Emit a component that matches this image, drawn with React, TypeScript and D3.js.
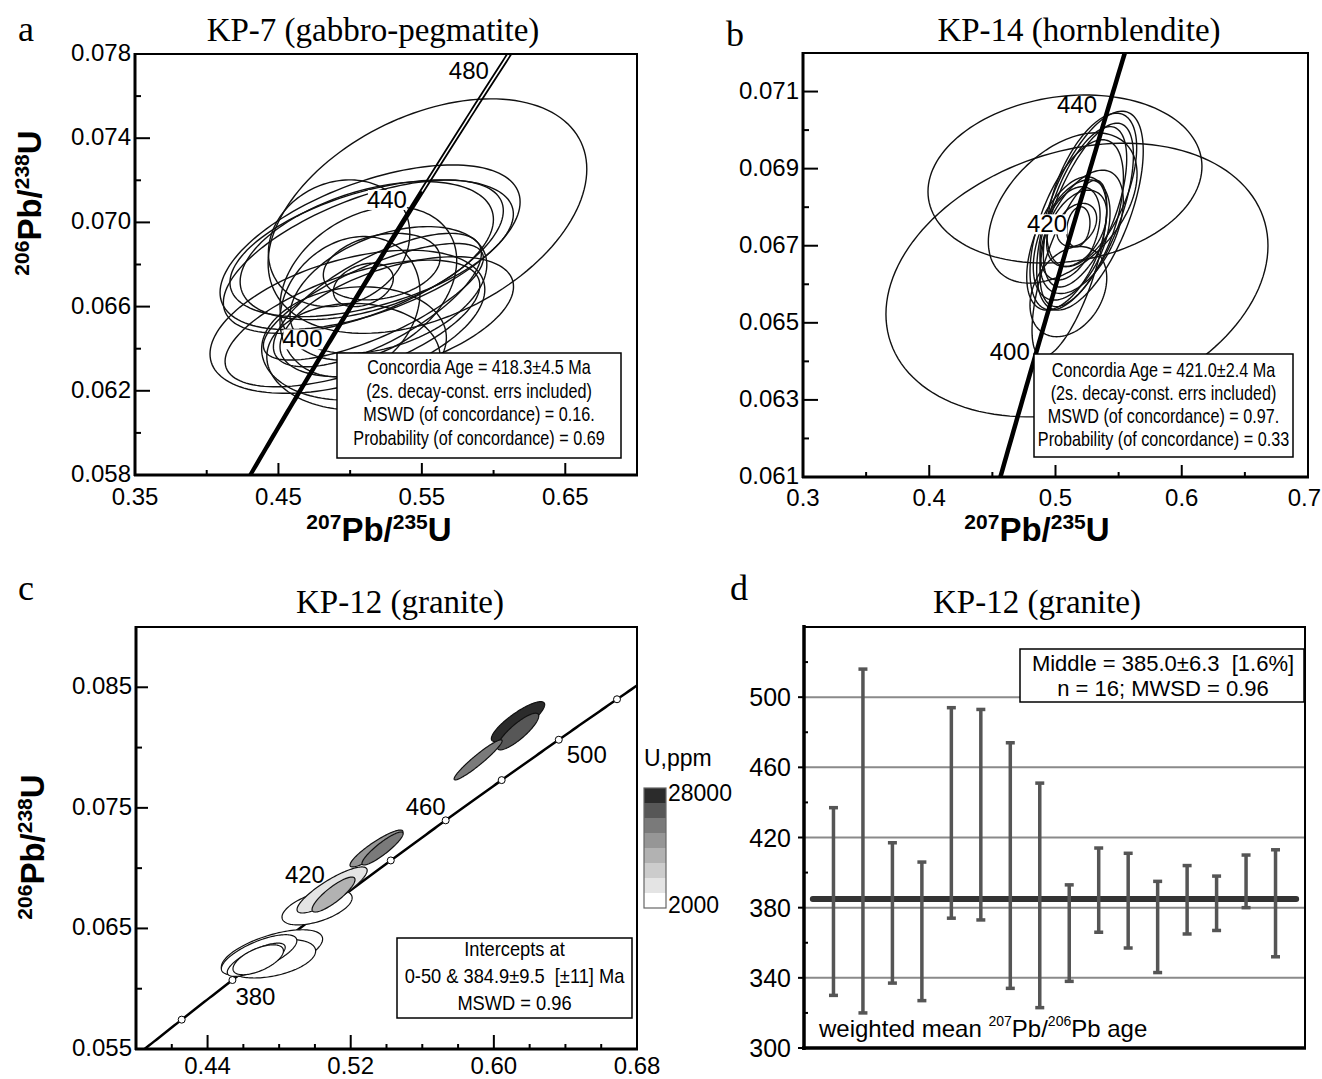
import React from 'react';
import * as d3 from 'd3';

// decay constants (1/yr)
const L238 = 1.55125e-10;
const L235 = 9.8485e-10;

// ---- a: KP-7 (gabbro-pegmatite) ellipses: centre, half-extent, rho
const kp7X = [0.5539, 0.5139, 0.5150, 0.5092, 0.5116, 0.4923, 0.5127, 0.5220, 0.5092, 0.5267, 0.4999, 0.4981, 0.5016, 0.5027, 0.5023, 0.5325, 0.5162, 0.5190];
const kp7Y = [0.0703, 0.06882, 0.06877, 0.06837, 0.06866, 0.06901, 0.06710, 0.06790, 0.06703, 0.06679, 0.06600, 0.06528, 0.06520, 0.06425, 0.06362, 0.06552, 0.06623, 0.06631];
const kp7Ex = [0.1111, 0.1046, 0.0988, 0.0976, 0.0883, 0.0493, 0.0616, 0.0407, 0.0209, 0.0686, 0.0488, 0.0958, 0.0888, 0.0644, 0.0604, 0.0814, 0.0767, 0.0725];
const kp7Ey = [0.00557, 0.00391, 0.00325, 0.00364, 0.00328, 0.00301, 0.00364, 0.00158, 0.00103, 0.00301, 0.00333, 0.00340, 0.00301, 0.00269, 0.00253, 0.00285, 0.00277, 0.00317];
const kp7Rho = [0.4, 0.55, 0.5, 0.6, 0.45, 0.15, 0.3, 0.25, 0.3, 0.4, 0.2, 0.45, 0.6, 0.1, 0.0, 0.5, 0.75, 0.7];
const kp7Ages = [400, 440, 480];
const kp7Legend = ['Concordia Age = 418.3\u00b14.5 Ma', '(2s. decay-const. errs included)', 'MSWD (of concordance) = 0.16.', 'Probability (of concordance) = 0.69'];
const kp7XLabels = [0.35, 0.45, 0.55, 0.65];
const kp7XMinor = [0.40, 0.50, 0.60];
const kp7YLabels = [0.058, 0.062, 0.066, 0.070, 0.074, 0.078];
const kp7YMinor = [0.060, 0.064, 0.068, 0.072, 0.076];

// ---- b: KP-14 (hornblendite)
const kp14X = [0.5170, 0.5075, 0.5057, 0.5273, 0.5247, 0.5234, 0.5168, 0.5089, 0.5128, 0.5115, 0.5168, 0.5181, 0.5102, 0.5110, 0.5287, 0.5207, 0.5168];
const kp14Y = [0.06611, 0.06873, 0.06798, 0.06791, 0.06780, 0.06801, 0.06754, 0.06706, 0.06715, 0.06732, 0.06754, 0.06749, 0.06581, 0.06641, 0.06845, 0.06736, 0.06745];
const kp14Ex = [0.1513, 0.1085, 0.0589, 0.0422, 0.0370, 0.0330, 0.0370, 0.0317, 0.0304, 0.0238, 0.0158, 0.0092, 0.0304, 0.0296, 0.0356, 0.0330, 0.0238];
const kp14Ey = [0.00355, 0.00218, 0.00195, 0.00258, 0.00238, 0.00208, 0.00221, 0.00173, 0.00156, 0.00121, 0.00056, 0.00052, 0.00117, 0.00229, 0.00199, 0.00160, 0.00099];
const kp14Rho = [0.25, 0.15, 0.45, 0.6, 0.65, 0.6, 0.55, 0.5, 0.45, 0.4, 0.3, 0.2, 0.3, 0.7, 0.55, 0.5, 0.4];
const kp14Ages = [400, 420, 440];
const kp14Legend = ['Concordia Age = 421.0\u00b12.4 Ma', '(2s. decay-const. errs included)', 'MSWD (of concordance) = 0.97.', 'Probability (of concordance) = 0.33'];
const kp14XLabels = [0.3, 0.4, 0.5, 0.6, 0.7];
const kp14XMinor = [0.35, 0.45, 0.55, 0.65];
const kp14YLabels = [0.061, 0.063, 0.065, 0.067, 0.069, 0.071];
const kp14YMinor = [0.062, 0.064, 0.066, 0.068, 0.070];

// ---- c: KP-12 (granite), filled by U content
const kp12X = [0.4760, 0.4760, 0.4688, 0.4672, 0.4683, 0.5012, 0.5096, 0.5104, 0.5344, 0.5378, 0.6135, 0.6135, 0.5912];
const kp12Y = [0.06296, 0.06249, 0.06282, 0.06240, 0.06240, 0.06674, 0.06819, 0.06781, 0.07163, 0.07163, 0.08215, 0.08133, 0.07898];
const kp12Ex = [0.0283, 0.0244, 0.0211, 0.0162, 0.0141, 0.0196, 0.0196, 0.0120, 0.0148, 0.0115, 0.0149, 0.0116, 0.0134];
const kp12Ey = [0.00193, 0.00160, 0.00166, 0.00138, 0.00124, 0.00145, 0.00191, 0.00145, 0.00153, 0.00137, 0.00166, 0.00152, 0.00166];
const kp12Rho = [0.6, 0.4, 0.7, 0.75, 0.6, 0.55, 0.85, 0.85, 0.9, 0.9, 0.85, 0.85, 0.95];
const kp12U = [2500, 3000, 2800, 3500, 4000, 3200, 7000, 13000, 16000, 19000, 27000, 22000, 20000];
const kp12Markers = [360, 380, 400, 420, 440, 460, 480, 500, 520];
const kp12Ages = [380, 420, 460, 500];
const kp12Legend = ['Intercepts at', '0-50 & 384.9\u00b19.5  [\u00b111] Ma', 'MSWD = 0.96'];
const kp12XLabels = [0.44, 0.52, 0.60, 0.68];
const kp12XMinor = [0.42, 0.46, 0.48, 0.50, 0.54, 0.56, 0.58, 0.62, 0.64, 0.66];
const kp12YLabels = [0.055, 0.065, 0.075, 0.085];
const kp12YMinor = [0.060, 0.070, 0.080];
const uRange = [2000, 28000];
const uGrays = ['#ffffff', '#e4e4e4', '#cccccc', '#b2b2b2', '#969696', '#7a7a7a', '#575757', '#2b2b2b'];

// ---- d: weighted mean 207Pb/206Pb ages
const ageHigh = [437, 516, 417, 406, 494, 493, 474, 451, 393, 414, 411, 395, 404, 398, 410, 413];
const ageLow = [330, 320, 337, 327, 374, 373, 334, 323, 338, 366, 357, 343, 365, 367, 380, 352];
const meanAge = 385.0;
const meanLegend = ['Middle = 385.0\u00b16.3  [1.6%]', 'n = 16; MWSD = 0.96'];
const ageLabels = [300, 340, 380, 420, 460, 500];
const ageMinor = [320, 360, 400, 440, 480, 520];

const SANS = "'Liberation Sans', Arial, sans-serif";
const SERIF = "'Liberation Serif', 'Times New Roman', serif";
const PAGE_W = 1322;

type Sc = d3.ScaleLinear<number, number>;

function concordia(t0: number, t1: number, k = 1): [number, number][] {
  return d3.range(t0, t1 + 0.5, 1).map(t => [Math.exp(L235 * k * t * 1e6) - 1, Math.exp(L238 * t * 1e6) - 1] as [number, number]);
}
function concPoint(t: number): [number, number] {
  return [Math.exp(L235 * t * 1e6) - 1, Math.exp(L238 * t * 1e6) - 1];
}
function ellipsePath(cx: number, cy: number, ex: number, ey: number, rho: number, xs: Sc, ys: Sc) {
  const r = Math.sqrt(1 - rho * rho);
  const pts = d3.range(140).map(i => {
    const a = (i / 140) * 2 * Math.PI;
    return [xs(cx + ex * Math.cos(a)), ys(cy + ey * (rho * Math.cos(a) + r * Math.sin(a)))] as [number, number];
  });
  return d3.line().curve(d3.curveLinearClosed)(pts) || '';
}

function Frame({ xs, ys, xLabels, xMinor, yLabels, yMinor, fx, fy, xMaj = 12, yMaj = 15, xLab = 29, id }: any) {
  const [x0, x1] = xs.range();
  const [y0, y1] = ys.range();
  return (
    <g>
      <rect x={x0} y={y1} width={x1 - x0} height={y0 - y1} fill="none" stroke="#000" strokeWidth={2} />
      <line x1={x0} x2={x0} y1={y1 - 1} y2={y0 + 1} stroke="#000" strokeWidth={3} />
      <line x1={x0 - 1} x2={x1 + 1} y1={y0} y2={y0} stroke="#000" strokeWidth={3} />
      {xLabels.map((v: number) => {
        const atEdge = xs(v) + 17 > PAGE_W;
        return (
          <g key={id + 'xl' + v}>
            <line x1={xs(v)} x2={xs(v)} y1={y0} y2={y0 - xMaj} stroke="#000" strokeWidth={2} />
            <text x={atEdge ? PAGE_W - 1 : xs(v)} y={y0 + xLab} textAnchor={atEdge ? 'end' : 'middle'} fontFamily={SANS} fontSize={24}>{fx(v)}</text>
          </g>
        );
      })}
      {xMinor.map((v: number) => (
        <line key={id + 'xm' + v} x1={xs(v)} x2={xs(v)} y1={y0} y2={y0 - 5} stroke="#000" strokeWidth={2} />
      ))}
      {yLabels.map((v: number) => (
        <g key={id + 'yl' + v}>
          <line x1={x0} x2={x0 + yMaj} y1={ys(v)} y2={ys(v)} stroke="#000" strokeWidth={2} />
          <text x={x0 - 4} y={ys(v) + 7} textAnchor="end" fontFamily={SANS} fontSize={24}>{fy(v)}</text>
        </g>
      ))}
      {yMinor.map((v: number) => (
        <line key={id + 'ym' + v} x1={x0} x2={x0 + 6} y1={ys(v)} y2={ys(v)} stroke="#000" strokeWidth={2} />
      ))}
    </g>
  );
}

function IsoTitle({ x, y, a, b, rotate = false }: any) {
  return (
    <text transform={`translate(${x},${y})${rotate ? ' rotate(-90)' : ''}`} textAnchor="middle" fontFamily={SANS} fontWeight="bold">
      <tspan fontSize={21} dy={-12}>{a}</tspan>
      <tspan fontSize={33} dy={12}>Pb/</tspan>
      <tspan fontSize={21} dy={-12}>{b}</tspan>
      <tspan fontSize={33} dy={12}>U</tspan>
    </text>
  );
}

// Isoplot boxes use a condensed face; squeeze the regular sans horizontally
function Legend({ x0, x1, y0, y1, lines, size, base, step, sx }: any) {
  return (
    <g>
      <rect x={x0} y={y0} width={x1 - x0} height={y1 - y0} fill="#fff" stroke="#000" strokeWidth={1.5} />
      {lines.map((s: string, i: number) => (
        <text key={s} transform={`translate(${(x0 + x1) / 2},${base + i * step}) scale(${sx},1)`} textAnchor="middle"
          fontFamily={SANS} fontSize={size} style={{ whiteSpace: 'pre' }}>{s}</text>
      ))}
    </g>
  );
}

function AgeLabel({ t, xs, ys, dx, dy, anchor = 'end', bg = true }: any) {
  const [px, py] = concPoint(t);
  const X = xs(px) + dx;
  const Y = ys(py) + dy;
  const w = 39;
  return (
    <g>
      {bg && <rect x={anchor === 'end' ? X - w : X} y={Y - 18} width={w} height={20} fill="#fff" />}
      <text x={X} y={Y} textAnchor={anchor} fontFamily={SANS} fontSize={24}>{t}</text>
    </g>
  );
}

function PanelA() {
  const xs = d3.scaleLinear().domain([0.35, 0.70]).range([135, 637]);
  const ys = d3.scaleLinear().domain([0.058, 0.078]).range([475, 54]);
  const line = d3.line<[number, number]>().x(d => xs(d[0])).y(d => ys(d[1]));
  const off: Record<number, [number, number]> = { 400: [-3, -1], 440: [-4, -1], 480: [-11, 10] };
  return (
    <g>
      <defs><clipPath id="clipA"><rect x={135} y={54} width={502} height={421} /></clipPath></defs>
      <g clipPath="url(#clipA)">
        {kp7X.map((_, i) => (
          <path key={'ea' + i} d={ellipsePath(kp7X[i], kp7Y[i], kp7Ex[i], kp7Ey[i], kp7Rho[i], xs, ys)} fill="none" stroke="#111" strokeWidth={1.4} />
        ))}
        <path d={line(concordia(350, 445)) || ''} fill="none" stroke="#000" strokeWidth={2.6} />
        <path d={line(concordia(350, 500, 1.0019)) || ''} fill="none" stroke="#000" strokeWidth={1.8} />
        <path d={line(concordia(350, 500, 0.9981)) || ''} fill="none" stroke="#000" strokeWidth={1.8} />
      </g>
      {kp7Ages.map(t => <AgeLabel key={'la' + t} t={t} xs={xs} ys={ys} dx={off[t][0]} dy={off[t][1]} />)}
      <Legend x0={337} x1={621} y0={353} y1={458} lines={kp7Legend} size={19.5} sx={0.83} base={374} step={23.5} />
      <Frame id="a" xs={xs} ys={ys} xLabels={kp7XLabels} xMinor={kp7XMinor} yLabels={kp7YLabels} yMinor={kp7YMinor}
        fx={d3.format('.2f')} fy={d3.format('.3f')} xLab={30} />
      <IsoTitle x={379} y={541} a="207" b="235" />
      <IsoTitle x={41} y={203} a="206" b="238" rotate />
      <text x={18} y={41} fontFamily={SERIF} fontSize={36}>a</text>
      <text x={373} y={41} textAnchor="middle" fontFamily={SERIF} fontSize={33}>KP-7 (gabbro-pegmatite)</text>
    </g>
  );
}

function PanelB() {
  const xs = d3.scaleLinear().domain([0.3, 0.7]).range([803, 1308]);
  const ys = d3.scaleLinear().domain([0.061, 0.072]).range([477, 53]);
  const line = d3.line<[number, number]>().x(d => xs(d[0])).y(d => ys(d[1]));
  const off: Record<number, [number, number]> = { 400: [-4, -1], 420: [-4, -1], 440: [-12, 8] };
  return (
    <g>
      <defs><clipPath id="clipB"><rect x={803} y={53} width={505} height={424} /></clipPath></defs>
      <g clipPath="url(#clipB)">
        {kp14X.map((_, i) => (
          <path key={'eb' + i} d={ellipsePath(kp14X[i], kp14Y[i], kp14Ex[i], kp14Ey[i], kp14Rho[i], xs, ys)} fill="none" stroke="#111" strokeWidth={1.4} />
        ))}
        <path d={line(concordia(370, 460)) || ''} fill="none" stroke="#000" strokeWidth={4.5} />
      </g>
      {kp14Ages.map(t => <AgeLabel key={'lb' + t} t={t} xs={xs} ys={ys} dx={off[t][0]} dy={off[t][1]} bg={t === 420} />)}
      <Legend x0={1034} x1={1293} y0={354} y1={457} lines={kp14Legend} size={19.5} sx={0.83} base={377} step={23} />
      <Frame id="b" xs={xs} ys={ys} xLabels={kp14XLabels} xMinor={kp14XMinor} yLabels={kp14YLabels} yMinor={kp14YMinor}
        fx={d3.format('.1f')} fy={d3.format('.3f')} xLab={29} />
      <IsoTitle x={1037} y={541} a="207" b="235" />
      <text x={726} y={46} fontFamily={SERIF} fontSize={36}>b</text>
      <text x={1079} y={41} textAnchor="middle" fontFamily={SERIF} fontSize={33}>KP-14 (hornblendite)</text>
    </g>
  );
}

function PanelC() {
  const xs = d3.scaleLinear().domain([0.40, 0.68]).range([136, 637]);
  const ys = d3.scaleLinear().domain([0.055, 0.090]).range([1049, 627]);
  const line = d3.line<[number, number]>().x(d => xs(d[0])).y(d => ys(d[1]));
  const gray = d3.scaleQuantize<string>().domain(uRange).range(uGrays);
  const bandH = (908 - 788) / uGrays.length;
  const off: Record<number, [number, number, string]> = { 380: [3, 25, 'start'], 420: [-12, -17, 'end'], 460: [0, -5, 'end'], 500: [8, 23, 'start'] };
  return (
    <g>
      <defs><clipPath id="clipC"><rect x={136} y={627} width={501} height={422} /></clipPath></defs>
      <g clipPath="url(#clipC)">
        <path d={line(concordia(340, 540)) || ''} fill="none" stroke="#000" strokeWidth={2.5} />
        {kp12Markers.map(t => {
          const [px, py] = concPoint(t);
          return <circle key={'m' + t} cx={xs(px)} cy={ys(py)} r={3.5} fill="#fff" stroke="#000" strokeWidth={1} />;
        })}
        {kp12X.map((_, i) => (
          <path key={'ec' + i} d={ellipsePath(kp12X[i], kp12Y[i], kp12Ex[i], kp12Ey[i], kp12Rho[i], xs, ys)} fill={gray(kp12U[i])} stroke="#111" strokeWidth={1.2} />
        ))}
      </g>
      {kp12Ages.map(t => <AgeLabel key={'lc' + t} t={t} xs={xs} ys={ys} dx={off[t][0]} dy={off[t][1]} anchor={off[t][2]} bg={false} />)}
      <Legend x0={397} x1={632} y0={938} y1={1018} lines={kp12Legend} size={21} sx={0.87} base={956} step={27} />
      <Frame id="c" xs={xs} ys={ys} xLabels={kp12XLabels} xMinor={kp12XMinor} yLabels={kp12YLabels} yMinor={kp12YMinor}
        fx={d3.format('.2f')} fy={d3.format('.3f')} xMaj={14} yMaj={12} xLab={25} />
      {uGrays.map((g, i) => (
        <rect key={'cb' + i} x={644} y={908 - (i + 1) * bandH} width={22} height={bandH} fill={g} />
      ))}
      <rect x={644} y={788} width={22} height={120} fill="none" stroke="#666" strokeWidth={1.2} />
      <text x={644} y={766} fontFamily={SANS} fontSize={23}>U,ppm</text>
      <text x={668} y={801} fontFamily={SANS} fontSize={23}>{uRange[1]}</text>
      <text x={668} y={913} fontFamily={SANS} fontSize={23}>{uRange[0]}</text>
      <IsoTitle x={44} y={847} a="206" b="238" rotate />
      <text x={18} y={600} fontFamily={SERIF} fontSize={36}>c</text>
      <text x={400} y={613} textAnchor="middle" fontFamily={SERIF} fontSize={33}>KP-12 (granite)</text>
    </g>
  );
}

function PanelD() {
  const xs = d3.scaleLinear().domain([0, 17]).range([804, 1305]);
  const ys = d3.scaleLinear().domain([300, 540]).range([1048, 627]);
  return (
    <g>
      {ageLabels.slice(1).map(v => (
        <line key={'g' + v} x1={804} x2={1305} y1={ys(v)} y2={ys(v)} stroke="#8a8a8a" strokeWidth={2} />
      ))}
      <rect x={1020} y={649} width={284} height={53} fill="#fff" stroke="#000" strokeWidth={1.5} />
      {meanLegend.map((s, i) => (
        <text key={s} x={1163} y={671 + i * 25} textAnchor="middle" fontFamily={SANS} fontSize={22} style={{ whiteSpace: 'pre' }}>{s}</text>
      ))}
      <line x1={xs(0.3)} x2={xs(16.7)} y1={ys(meanAge)} y2={ys(meanAge)} stroke="#333" strokeWidth={6} strokeLinecap="round" />
      {ageHigh.map((h, i) => (
        <g key={'e' + i} stroke="#555" strokeWidth={3.5}>
          <line x1={xs(i + 1)} x2={xs(i + 1)} y1={ys(h)} y2={ys(ageLow[i])} />
          <line x1={xs(i + 1) - 4.5} x2={xs(i + 1) + 4.5} y1={ys(h)} y2={ys(h)} />
          <line x1={xs(i + 1) - 4.5} x2={xs(i + 1) + 4.5} y1={ys(ageLow[i])} y2={ys(ageLow[i])} />
        </g>
      ))}
      <rect x={804} y={627} width={501} height={421} fill="none" stroke="#000" strokeWidth={2} />
      <line x1={804} x2={804} y1={625} y2={1050} stroke="#000" strokeWidth={3.5} />
      <line x1={802} x2={1306} y1={1048} y2={1048} stroke="#000" strokeWidth={3.5} />
      {ageLabels.map(v => (
        <g key={'yl' + v}>
          <line x1={798} x2={804} y1={ys(v)} y2={ys(v)} stroke="#000" strokeWidth={2} />
          <text x={791} y={ys(v) + 9} textAnchor="end" fontFamily={SANS} fontSize={25}>{v}</text>
        </g>
      ))}
      {ageMinor.map(v => (
        <line key={'ym' + v} x1={804} x2={808} y1={ys(v)} y2={ys(v)} stroke="#000" strokeWidth={2} />
      ))}
      <text x={819} y={1037} fontFamily={SANS} fontSize={24}>
        <tspan>weighted mean  </tspan>
        <tspan fontSize={14} dy={-11}>207</tspan>
        <tspan dy={11}>Pb/</tspan>
        <tspan fontSize={14} dy={-11}>206</tspan>
        <tspan dy={11}>Pb age</tspan>
      </text>
      <text x={730} y={600} fontFamily={SERIF} fontSize={36}>d</text>
      <text x={1037} y={613} textAnchor="middle" fontFamily={SERIF} fontSize={33}>KP-12 (granite)</text>
    </g>
  );
}

export default function App() {
  return (
    <svg width={PAGE_W} height={1079} style={{ position: 'absolute', left: 0, top: 0, background: '#fff' }}>
      <rect width={PAGE_W} height={1079} fill="#fff" />
      <PanelA />
      <PanelB />
      <PanelC />
      <PanelD />
    </svg>
  );
}
